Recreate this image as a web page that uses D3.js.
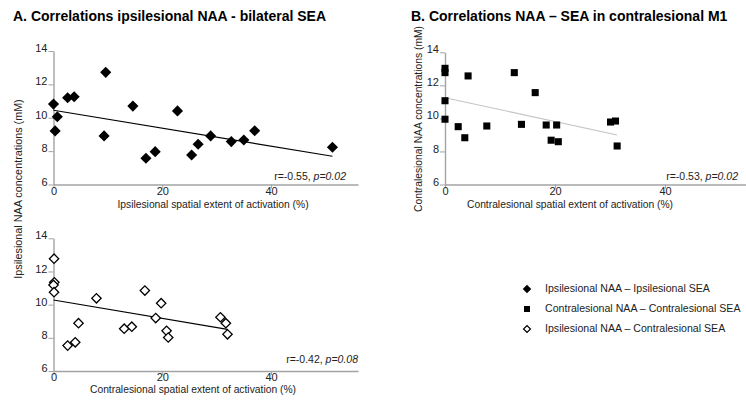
<!DOCTYPE html>
<html>
<head>
<meta charset="utf-8">
<script src="https://cdn.jsdelivr.net/npm/d3@7"></script>
<style>
  body { margin: 0; background: #fff; }
  svg { display: block; font-family: Arial, "Liberation Sans", sans-serif; }
</style>
</head>
<body>
<div id="chart"></div>
<script>
// --- data ---
// A (top): ipsilesional SEA (%) vs ipsilesional NAA (mM)
const ipsiSea = [0, 0.7, 0.3, 2.6, 3.8, 9.6, 9.3, 14.6, 17.0, 18.7, 22.8, 25.4, 26.6, 28.9, 32.7, 35.0, 37.0, 51.3];
const ipsiNaa = [10.82, 10.06, 9.21, 11.20, 11.26, 12.72, 8.91, 10.70, 7.57, 7.97, 10.41, 7.77, 8.41, 8.91, 8.57, 8.67, 9.22, 8.23];
const ipsiFit = [[0, 10.45], [51.3, 7.69]];

// A (bottom): contralesional SEA (%) vs ipsilesional NAA (mM)
const crossSea = [0.1, 0.15, 0, 0.1, 7.9, 4.6, 4.0, 2.6, 13.0, 14.4, 16.8, 18.8, 19.8, 20.8, 21.1, 30.7, 31.7, 32.0];
const crossNaa = [12.77, 11.35, 11.19, 10.75, 10.38, 8.88, 7.73, 7.53, 8.55, 8.67, 10.85, 9.19, 10.09, 8.42, 8.02, 9.24, 8.88, 8.21];
const crossFit = [[0, 10.28], [32.0, 8.51]];

// B: contralesional SEA (%) vs contralesional NAA (mM)
const contraSea = [0, 0, 0, 0, 4.2, 2.4, 3.6, 7.6, 12.6, 13.9, 16.4, 18.4, 19.3, 20.3, 20.6, 30.1, 31.0, 31.3];
const contraNaa = [13.03, 12.77, 11.07, 9.95, 12.57, 9.50, 8.83, 9.54, 12.77, 9.64, 11.56, 9.60, 8.68, 9.60, 8.59, 9.78, 9.84, 8.33];
const contraFit = [[0, 11.25], [31.3, 9.0]];

const xTicks = [0, 20, 40];
const yTicks = [6, 8, 10, 12, 14];

const legendLabels = [
    "Ipsilesional NAA \u2013 Ipsilesional SEA",
    "Contralesional NAA \u2013 Contralesional SEA",
    "Ipsilesional NAA \u2013 Contralesional SEA"
];

(function () {
    const W = 746, H = 403;
    const axisColor = "#a3a3a3";

    const svg = d3.select("#chart").append("svg")
        .attr("width", W).attr("height", H);
    svg.append("rect").attr("width", W).attr("height", H).attr("fill", "#fff");

    // marker shapes
    const diamondPath = d3.symbol(d3.symbolSquare, 62)();
    const squarePath = d3.symbol(d3.symbolSquare, 50)();
    const openDiamondPath = d3.symbol(d3.symbolSquare, 44)();

    const drawPanel = (p) => {
        const x = d3.scaleLinear().domain(p.xDomain).range(p.xRange);
        const y = d3.scaleLinear().domain([6, 14]).range(p.yRange);
        const g = svg.append("g");

        const xAxis = g.append("g")
            .attr("transform", `translate(0,${p.yRange[0]})`)
            .call(d3.axisBottom(x).tickValues(xTicks).tickSize(4).tickSizeOuter(0).tickPadding(-1.5));
        const yAxis = g.append("g")
            .attr("transform", `translate(${p.xRange[0]},0)`)
            .call(d3.axisLeft(y).tickValues(yTicks).tickSize(5).tickSizeOuter(0).tickPadding(1));

        [xAxis, yAxis].forEach(a => {
            a.select(".domain").attr("stroke", axisColor).attr("stroke-width", 1.4);
            a.selectAll(".tick line").attr("stroke", axisColor).attr("stroke-width", 1);
            a.selectAll(".tick text").attr("fill", "#222").style("font-size", "11px");
        });
        yAxis.selectAll(".tick text").attr("dy", "0.05em");

        // fit line
        g.append("line")
            .attr("x1", x(p.fit[0][0])).attr("y1", y(p.fit[0][1]))
            .attr("x2", x(p.fit[1][0])).attr("y2", y(p.fit[1][1]))
            .attr("stroke", p.fitColor).attr("stroke-width", 1.1);

        // points
        g.append("g").selectAll("path")
            .data(d3.zip(p.xs, p.ys))
            .join("path")
            .attr("d", p.marker.d)
            .attr("transform", d => `translate(${x(d[0])},${y(d[1])}) rotate(${p.marker.rot})`)
            .attr("fill", p.marker.fill)
            .attr("stroke", p.marker.stroke)
            .attr("stroke-width", p.marker.sw);

        // stats
        const st = g.append("text")
            .attr("x", p.stat.x).attr("y", p.stat.y)
            .attr("text-anchor", "end")
            .style("font-size", "10.5px").attr("fill", "#222");
        st.append("tspan").text(`r=${p.stat.r}, `);
        st.append("tspan").attr("font-style", "italic").text(`p=${p.stat.p}`);

        // x title
        g.append("text")
            .attr("x", p.xTitle.x).attr("y", p.xTitle.y)
            .attr("text-anchor", "middle")
            .style("font-size", "10.3px").attr("fill", "#222")
            .text(p.xTitle.text);
    };

    const filledDiamond = { d: diamondPath, rot: 45, fill: "#000", stroke: "none", sw: 0 };
    const filledSquare = { d: squarePath, rot: 0, fill: "#000", stroke: "none", sw: 0 };
    const openDiamond = { d: openDiamondPath, rot: 45, fill: "#fff", stroke: "#000", sw: 1.3 };

    drawPanel({
        xDomain: [0, 56], xRange: [53.5, 358], yRange: [184.5, 51],
        xs: ipsiSea, ys: ipsiNaa, fit: ipsiFit, fitColor: "#000", marker: filledDiamond,
        stat: { x: 346, y: 179.5, r: "-0.55", p: "0.02" },
        xTitle: { x: 213, y: 207.5, text: "Ipsilesional spatial extent of activation (%)" }
    });

    drawPanel({
        xDomain: [0, 56], xRange: [53.5, 358], yRange: [371, 238.3],
        xs: crossSea, ys: crossNaa, fit: crossFit, fitColor: "#000", marker: openDiamond,
        stat: { x: 358, y: 363, r: "-0.42", p: "0.08" },
        xTitle: { x: 193, y: 392.5, text: "Contralesional spatial extent of activation (%)" }
    });

    drawPanel({
        xDomain: [0, 55], xRange: [445, 747.5], yRange: [184.5, 52.3],
        xs: contraSea, ys: contraNaa, fit: contraFit, fitColor: "#c4c4c4", marker: filledSquare,
        stat: { x: 738, y: 179.5, r: "-0.53", p: "0.02" },
        xTitle: { x: 570, y: 207.5, text: "Contralesional spatial extent of activation (%)" }
    });

    // y titles
    svg.append("text")
        .attr("transform", "translate(22,189) rotate(-90)")
        .attr("text-anchor", "middle")
        .style("font-size", "10.8px").attr("fill", "#222")
        .text("Ipsilesional NAA concentrations (mM)");
    svg.append("text")
        .attr("transform", "translate(422,119) rotate(-90)")
        .attr("text-anchor", "middle")
        .style("font-size", "10.3px").attr("fill", "#222")
        .text("Contralesional NAA concentrations (mM)");

    // panel titles
    svg.append("text").attr("x", 13).attr("y", 21)
        .style("font-size", "14px").style("font-weight", "bold")
        .text("A. Correlations ipsilesional NAA - bilateral SEA");
    svg.append("text").attr("x", 411).attr("y", 21)
        .style("font-size", "14px").style("font-weight", "bold")
        .text("B. Correlations NAA \u2013 SEA in contralesional M1");

    // legend
    const legendMarkers = [
        { d: d3.symbol(d3.symbolSquare, 36)(), rot: 45, fill: "#000", stroke: "none", sw: 0 },
        { d: d3.symbol(d3.symbolSquare, 36)(), rot: 0, fill: "#000", stroke: "none", sw: 0 },
        { d: d3.symbol(d3.symbolSquare, 24)(), rot: 45, fill: "#fff", stroke: "#000", sw: 1.2 }
    ];
    const lg = svg.append("g").selectAll("g")
        .data(legendLabels)
        .join("g")
        .attr("transform", (d, i) => `translate(0,${288 + i * 20})`);
    lg.append("path")
        .attr("d", (d, i) => legendMarkers[i].d)
        .attr("transform", (d, i) => `translate(527,1) rotate(${legendMarkers[i].rot})`)
        .attr("fill", (d, i) => legendMarkers[i].fill)
        .attr("stroke", (d, i) => legendMarkers[i].stroke)
        .attr("stroke-width", (d, i) => legendMarkers[i].sw);
    lg.append("text")
        .attr("x", 545).attr("y", 4)
        .style("font-size", "10.6px").attr("fill", "#222")
        .text(d => d);
})();
</script>
</body>
</html>
